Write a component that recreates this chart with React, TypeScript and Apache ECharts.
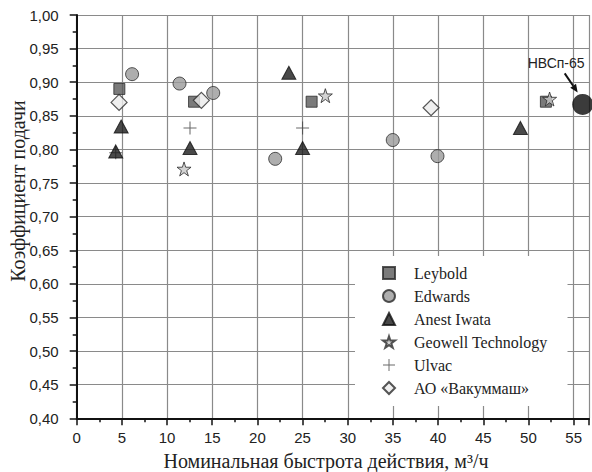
import React, { useEffect, useRef } from 'react';
import * as echarts from 'echarts';

const leybold = [[4.72, 0.89], [12.99, 0.871], [26.0, 0.871], [51.93, 0.871]];
const edwards = [[6.13, 0.912], [11.38, 0.898], [15.11, 0.884], [21.97, 0.786], [34.98, 0.814], [39.93, 0.79]];
const anestIwata = [[4.32, 0.797], [4.92, 0.834], [12.54, 0.802], [23.48, 0.914], [25.0, 0.802], [49.11, 0.832]];
const geowell = [[11.88, 0.771], [27.52, 0.88], [52.34, 0.875]];
const ulvac = [[4.32, 0.795], [12.54, 0.832], [25.0, 0.832]];
const vakuummash = [[4.69, 0.87], [13.8, 0.873], [39.22, 0.862]];
const hvsp65 = [[56.0, 0.867]];

const seriesNames = ['Leybold', 'Edwards', 'Anest Iwata', 'Geowell Technology', 'Ulvac', 'АО «Вакуммаш»'];
const annotationLabel = 'НВСп-65';
const xTitle = 'Номинальная быстрота действия, м³/ч';
const yTitle = 'Коэффициент подачи';

const STAR = 'path://M5,0L6.18,3.6L10,3.6L6.9,5.9L8.1,9.5L5,7.3L1.9,9.5L3.1,5.9L0,3.6L3.82,3.6Z';
const PLUS = 'path://M4.6,0H5.4V4.6H10V5.4H5.4V10H4.6V5.4H0V4.6H4.6Z';

export default function App() {
  const ref = useRef<HTMLDivElement>(null);
  useEffect(() => {
    const chart = echarts.init(ref.current!, null, { renderer: 'svg' });
    const labelFont = { fontFamily: 'Liberation Sans, Arial, sans-serif', fontSize: 15, color: '#222' };
    const border = '#2a2a2a';
    const axisLineStyle = { color: '#111', width: 2 };
    const option: any = {
      animation: false,
      backgroundColor: '#fff',
      grid: { left: 76.7, top: 15, right: 0, bottom: 53.7 },
      legend: {
        orient: 'vertical',
        left: 355,
        top: 256,
        backgroundColor: '#fff',
        padding: [9, 20, 10, 27],
        itemWidth: 12,
        itemHeight: 12,
        itemGap: 7,
        data: seriesNames,
        textStyle: { fontFamily: 'Liberation Serif, Times New Roman, serif', fontSize: 16, color: '#222', padding: [0, 0, 0, 14], lineHeight: 16 },
      },
      xAxis: {
        type: 'value',
        min: 0,
        max: 56.7,
        interval: 5,
        axisLine: { show: true, lineStyle: axisLineStyle },
        axisTick: { show: true, length: 7, lineStyle: { color: '#111', width: 1.5 } },
        minorTick: { show: true, splitNumber: 2, length: 4, lineStyle: { color: '#111', width: 1.5 } },
        splitLine: { show: true, lineStyle: { color: '#8a8a8a', width: 1.2 } },
        axisLabel: {
          ...labelFont,
          margin: 12,
          formatter: (v: number) => (Math.abs(v / 5 - Math.round(v / 5)) < 1e-6 ? String(v) : ''),
        },
      },
      yAxis: {
        type: 'value',
        min: 0.4,
        max: 1.0,
        interval: 0.05,
        axisLine: { show: true, lineStyle: axisLineStyle },
        axisTick: { show: true, length: 7, lineStyle: { color: '#111', width: 1.5 } },
        minorTick: { show: true, splitNumber: 2, length: 4, lineStyle: { color: '#111', width: 1.5 } },
        splitLine: { show: true, lineStyle: { color: '#8a8a8a', width: 1.2 } },
        axisLabel: { ...labelFont, margin: 18, formatter: (v: number) => v.toFixed(2).replace('.', ',') },
      },
      series: [
        {
          name: seriesNames[0], type: 'scatter', data: leybold, symbol: 'rect', symbolSize: 11, z: 3,
          itemStyle: { color: '#5a5a5a', borderColor: border, borderWidth: 1 },
        },
        {
          name: seriesNames[1], type: 'scatter', data: edwards, symbol: 'circle', symbolSize: 13, z: 3,
          itemStyle: { color: '#9a9a9a', borderColor: border, borderWidth: 1 },
        },
        {
          name: seriesNames[2], type: 'scatter', data: anestIwata, symbol: 'triangle', symbolSize: [14, 13], z: 3,
          itemStyle: { color: '#1c1c1c', borderColor: '#111', borderWidth: 1 },
        },
        {
          name: seriesNames[3], type: 'scatter', data: geowell, symbol: STAR, symbolSize: 14, z: 3,
          itemStyle: { color: '#c8c8c8', borderColor: border, borderWidth: 1 },
        },
        {
          name: seriesNames[4], type: 'scatter', data: ulvac, symbol: PLUS, symbolSize: 13, z: 2,
          itemStyle: { color: '#444' },
        },
        {
          name: seriesNames[5], type: 'scatter', data: vakuummash, symbol: 'diamond', symbolSize: 16, z: 3,
          itemStyle: { color: '#ebebeb', borderColor: border, borderWidth: 1.2 },
        },
        {
          name: annotationLabel, type: 'scatter', data: hvsp65, symbol: 'circle', symbolSize: 21, z: 3,
          itemStyle: { color: '#0a0a0a' },
        },
      ],
    };
    chart.setOption(option);

    const p = chart.convertToPixel({ gridIndex: 0 }, hvsp65[0]) as number[];
    const tail = [p[0] - 18, p[1] - 31];
    const tip = [p[0] - 5, p[1] - 12];
    const dx = tip[0] - tail[0];
    const dy = tip[1] - tail[1];
    const len = Math.hypot(dx, dy);
    const ux = dx / len;
    const uy = dy / len;
    const hl = 8;
    const hw = 3.5;
    const bx = tip[0] - ux * hl;
    const by = tip[1] - uy * hl;

    chart.setOption({
      graphic: [
        {
          type: 'line', z: 10,
          shape: { x1: tail[0], y1: tail[1], x2: bx, y2: by },
          style: { stroke: '#111', lineWidth: 2 },
        },
        {
          type: 'polygon', z: 10,
          shape: { points: [tip, [bx - uy * hw, by + ux * hw], [bx + uy * hw, by - ux * hw]] },
          style: { fill: '#111' },
        },
        {
          type: 'text', z: 10,
          x: p[0] - 55, y: p[1] - 41,
          style: { text: annotationLabel, fill: '#222', font: '14px "Liberation Sans", Arial, sans-serif', verticalAlign: 'middle', align: 'left' },
        },
        {
          type: 'text', z: 10,
          x: 326, y: 461,
          style: { text: xTitle, fill: '#222', font: '20px "Liberation Serif", "Times New Roman", serif', align: 'center', verticalAlign: 'middle' },
        },
        {
          type: 'text', z: 10,
          x: 18, y: 191,
          rotation: Math.PI / 2,
          style: { text: yTitle, fill: '#222', font: '20px "Liberation Serif", "Times New Roman", serif', align: 'center', verticalAlign: 'middle' },
        },
      ],
    });
    return () => chart.dispose();
  }, []);
  return <div ref={ref} style={{ position: 'absolute', left: 0, top: 0, width: 592, height: 472 }} />;
}
